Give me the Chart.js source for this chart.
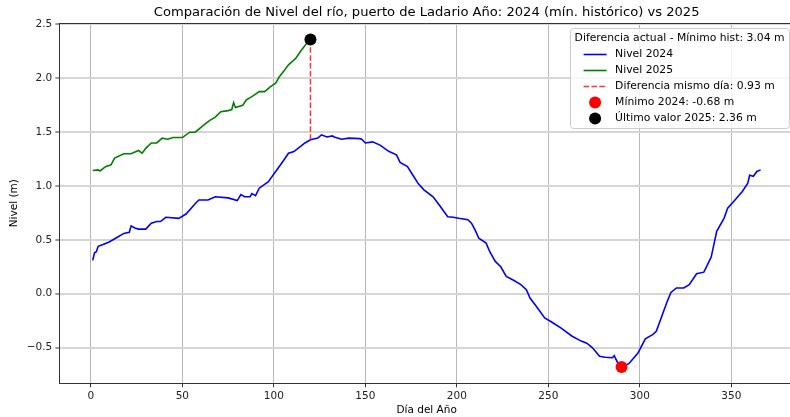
<!DOCTYPE html>
<html>
<head>
<meta charset="utf-8">
<script src="https://cdn.jsdelivr.net/npm/chart.js@4.4.1/dist/chart.umd.min.js"></script>
<style>
html, body { margin: 0; padding: 0; background: #fff; overflow: hidden; }
#wrap { width: 800px; height: 417px; }
</style>
</head>
<body>
<div id="wrap"><canvas id="nivelChart" width="800" height="417"></canvas></div>
<script>
// niveles (día del año -> nivel en m)
const dias2024 = [1, 2, 3, 4, 7, 10, 14, 18, 21, 22, 24, 26, 30, 33, 36, 38, 41, 48, 52, 57, 59, 64, 68, 75, 80, 82, 84, 87, 88, 90,
  92, 97, 101, 105, 108, 111, 117, 120, 124, 126, 129, 132, 133, 137, 141, 147, 148, 150, 154, 158, 163, 167, 169, 173, 176, 179,
  182, 187, 191, 195, 198, 201, 206, 208, 210, 212, 216, 218, 221, 224, 227, 231, 235, 238, 240, 244, 248, 252, 257, 263, 268,
  271, 274, 278, 281, 285, 286, 288, 290, 294, 297, 299, 303, 307, 309, 312, 315, 317, 320, 324, 327, 331, 335, 337, 339, 342,
  346, 348, 352, 356, 359, 360, 362, 364, 366];
const nivel2024 = [0.31, 0.38, 0.39, 0.44, 0.46, 0.48, 0.52, 0.56, 0.57, 0.63, 0.61, 0.60, 0.60, 0.655, 0.67, 0.67, 0.71, 0.70, 0.74, 0.835, 0.87, 0.87, 0.90, 0.89, 0.865, 0.92, 0.90, 0.90, 0.93, 0.91,
  0.98, 1.04, 1.135, 1.23, 1.305, 1.32, 1.40, 1.43, 1.445, 1.475, 1.455, 1.465, 1.455, 1.435, 1.445, 1.44, 1.435, 1.40, 1.41, 1.38, 1.32, 1.29, 1.22, 1.18, 1.10, 1.02,
  0.965, 0.90, 0.81, 0.715, 0.71, 0.70, 0.687, 0.655, 0.59, 0.515, 0.47, 0.39, 0.30, 0.25, 0.16, 0.125, 0.085, 0.037, -0.04, -0.13, -0.225, -0.265, -0.32, -0.395, -0.44,
  -0.46, -0.50, -0.58, -0.59, -0.595, -0.575, -0.645, -0.68, -0.65, -0.59, -0.55, -0.42, -0.38, -0.35, -0.21, -0.07, 0.012, 0.053, 0.053, 0.083, 0.185, 0.20, 0.27, 0.34, 0.58,
  0.70, 0.795, 0.87, 0.95, 1.027, 1.10, 1.09, 1.135, 1.15];

const dias2025 = [1, 4, 5, 8, 11, 13, 18, 22, 26, 28, 30, 33, 36, 39, 42, 45, 50, 54, 57, 62, 65, 68, 71, 75, 77, 78, 79, 83, 85, 88,
  92, 95, 98, 101, 103, 106, 108, 112, 115, 118, 120];
const nivel2025 = [1.144, 1.15, 1.14, 1.18, 1.197, 1.26, 1.30, 1.30, 1.33, 1.305, 1.35, 1.40, 1.40, 1.444, 1.435, 1.45, 1.45, 1.50, 1.50, 1.57, 1.61, 1.64, 1.69, 1.70, 1.71, 1.775, 1.73, 1.75, 1.80, 1.83,
  1.877, 1.877, 1.92, 1.955, 2.015, 2.08, 2.125, 2.186, 2.26, 2.325, 2.36];

const minimo2024 = { dia: 290, nivel: -0.68 };
const ultimo2025 = { dia: 120, nivel: 2.36 };
const nivel2024MismoDia = 1.43;

const xTicks = [0, 50, 100, 150, 200, 250, 300, 350];
const yTicks = [-0.5, 0, 0.5, 1, 1.5, 2, 2.5];

const titulo = 'Comparación de Nivel del río, puerto de Ladario Año: 2024 (mín. histórico) vs 2025';
const tituloLeyenda = 'Diferencia actual - Mínimo hist: 3.04 m';
const etiquetas = ['Nivel 2024', 'Nivel 2025', 'Diferencia mismo día: 0.93 m', 'Mínimo 2024: -0.68 m', 'Último valor 2025: 2.36 m'];

const FONT = '"DejaVu Sans", sans-serif';

const toXY = (xs, ys) => xs.map((d, i) => ({ x: d, y: ys[i] }));

// titulo, etiquetas de ejes, borde superior y leyenda estilo matplotlib
const decor = {
  id: 'decor',
  afterDraw(chart) {
    const { ctx, chartArea: a } = chart;
    ctx.save();
    ctx.strokeStyle = '#333';
    ctx.lineWidth = 1;
    ctx.beginPath();
    ctx.moveTo(a.left, Math.round(a.top) + 0.5);
    ctx.lineTo(a.right, Math.round(a.top) + 0.5);
    ctx.stroke();

    const cx = (a.left + a.right) / 2;
    ctx.fillStyle = '#000';
    ctx.textAlign = 'center';
    ctx.textBaseline = 'middle';
    ctx.font = '13.1px ' + FONT;
    ctx.fillText(titulo, cx, 12.5);
    ctx.font = '10.5px ' + FONT;
    ctx.fillText('Día del Año', cx, 410.5);
    ctx.save();
    ctx.translate(14.5, (a.top + a.bottom) / 2);
    ctx.rotate(-Math.PI / 2);
    ctx.fillText('Nivel (m)', 0, 0);
    ctx.restore();

    // leyenda
    ctx.font = '10.8px ' + FONT;
    const tw = ctx.measureText(tituloLeyenda).width;
    const right = a.right - 5;
    const left = right - tw - 9;
    const top = 28.5, bottom = 128.5;
    ctx.beginPath();
    ctx.roundRect(Math.round(left) + 0.5, top, right - left, bottom - top, 3);
    ctx.fillStyle = 'rgba(255,255,255,0.8)';
    ctx.fill();
    ctx.strokeStyle = '#cccccc';
    ctx.stroke();

    ctx.fillStyle = '#000';
    ctx.textAlign = 'center';
    ctx.fillText(tituloLeyenda, (left + right) / 2, 38.5);

    const ds = chart.data.datasets;
    ctx.textAlign = 'left';
    etiquetas.forEach((txt, i) => {
      const y = 54.5 + i * 16;
      const d = ds[i];
      if (i < 3) {
        ctx.save();
        ctx.strokeStyle = d.borderColor;
        ctx.lineWidth = d.borderWidth;
        ctx.setLineDash(d.borderDash || []);
        ctx.beginPath();
        ctx.moveTo(left + 13.5, y);
        ctx.lineTo(left + 36.5, y);
        ctx.stroke();
        ctx.restore();
      } else {
        ctx.beginPath();
        ctx.arc(left + 25, y, d.pointRadius, 0, Math.PI * 2);
        ctx.fillStyle = d.backgroundColor;
        ctx.fill();
      }
      ctx.fillStyle = '#000';
      ctx.fillText(txt, left + 45, y);
    });
    ctx.restore();
  }
};

const tickFont = { family: FONT, size: 10.5 };

new Chart(document.getElementById('nivelChart'), {
  type: 'line',
  data: {
    datasets: [
      { label: etiquetas[0], data: toXY(dias2024, nivel2024), borderColor: '#0000ff', borderWidth: 1.6, pointRadius: 0, order: 4 },
      { label: etiquetas[1], data: toXY(dias2025, nivel2025), borderColor: '#008000', borderWidth: 1.6, pointRadius: 0, order: 3 },
      { label: etiquetas[2], data: [{ x: ultimo2025.dia, y: nivel2024MismoDia }, { x: ultimo2025.dia, y: ultimo2025.nivel }],
        borderColor: 'rgba(255,0,0,0.8)', borderWidth: 1.5, borderDash: [5.5, 2.4], pointRadius: 0, order: 2 },
      { label: etiquetas[3], data: [{ x: minimo2024.dia, y: minimo2024.nivel }], showLine: false,
        backgroundColor: '#ff0000', borderWidth: 0, pointRadius: 6, pointBorderWidth: 0, order: 1 },
      { label: etiquetas[4], data: [{ x: ultimo2025.dia, y: ultimo2025.nivel }], showLine: false,
        backgroundColor: '#000000', borderWidth: 0, pointRadius: 6, pointBorderWidth: 0, order: 0 }
    ]
  },
  options: {
    responsive: false,
    animation: false,
    devicePixelRatio: 1,
    layout: { padding: { top: 23.2, right: 4.3, left: 0, bottom: 0 } },
    plugins: { legend: { display: false }, tooltip: { enabled: false }, title: { display: false } },
    scales: {
      x: {
        type: 'linear',
        min: -17.25,
        max: 384.25,
        afterBuildTicks: s => { s.ticks = xTicks.map(v => ({ value: v })); },
        afterFit: s => { s.height = 33.7; },
        grid: { color: '#b8b8b8', lineWidth: 1, tickColor: '#333', tickLength: 4, tickWidth: 1 },
        border: { color: '#333', width: 1 },
        ticks: { font: tickFont, color: '#222', padding: 3, maxRotation: 0, callback: v => String(v) }
      },
      y: {
        type: 'linear',
        min: -0.832,
        max: 2.512,
        afterBuildTicks: s => { s.ticks = yTicks.map(v => ({ value: v })); },
        afterFit: s => { s.width = 59.3; },
        grid: { color: '#d6d6d6', lineWidth: 2, tickColor: '#333', tickLength: 4, tickWidth: 1 },
        border: { color: '#333', width: 1 },
        ticks: { font: tickFont, color: '#222', padding: 3, callback: v => v.toFixed(1).replace('-', '\u2212') }
      }
    }
  },
  plugins: [decor]
});
</script>
</body>
</html>
